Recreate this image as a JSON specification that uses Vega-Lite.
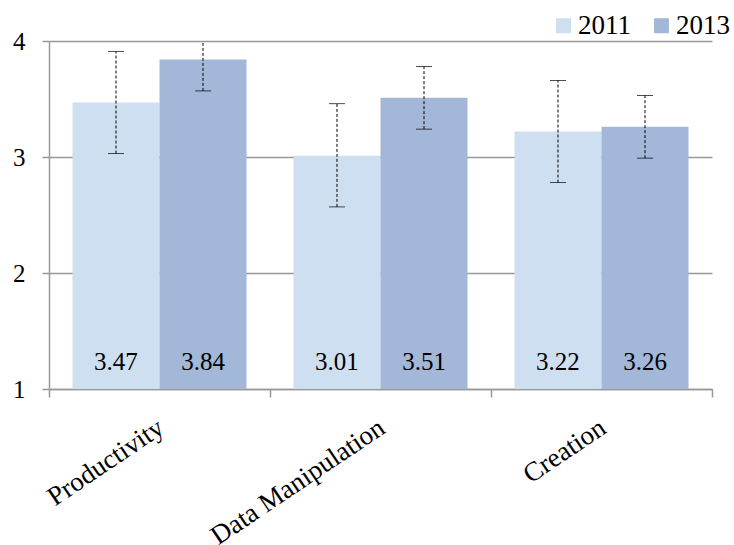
{
  "$schema": "https://vega.github.io/schema/vega-lite/v6.json",
  "width": 663,
  "height": 348,
  "autosize": {"type": "none"},
  "padding": {"left": 49, "top": 41, "right": 22, "bottom": 156},
  "background": "white",
  "config": {"font": "Liberation Serif", "view": {"stroke": null}},
  "data": {
    "values": [
      {"category": "Productivity", "year": "2011", "value": 3.47, "lo": 3.03, "hi": 3.91},
      {"category": "Productivity", "year": "2013", "value": 3.84, "lo": 3.57, "hi": 4.11},
      {"category": "Data Manipulation", "year": "2011", "value": 3.01, "lo": 2.57, "hi": 3.46},
      {"category": "Data Manipulation", "year": "2013", "value": 3.51, "lo": 3.24, "hi": 3.78},
      {"category": "Creation", "year": "2011", "value": 3.22, "lo": 2.78, "hi": 3.66},
      {"category": "Creation", "year": "2013", "value": 3.26, "lo": 2.99, "hi": 3.53}
    ]
  },
  "encoding": {
    "x": {
      "field": "category",
      "type": "nominal",
      "sort": ["Productivity", "Data Manipulation", "Creation"],
      "scale": {"paddingInner": 0, "paddingOuter": 0},
      "axis": {
        "title": null,
        "tickBand": "extent",
        "domainColor": "#999999",
        "domainWidth": 1.5,
        "tickColor": "#999999",
        "tickWidth": 1.5,
        "tickSize": 8,
        "labelAngle": -34,
        "labelFontSize": 27,
        "labelColor": "black",
        "labelPadding": 17,
        "labelOffset": -6,
        "labelLimit": 0,
        "grid": false
      }
    },
    "xOffset": {
      "field": "year",
      "type": "nominal",
      "scale": {"paddingInner": 0, "paddingOuter": 0.27}
    }
  },
  "layer": [
    {
      "mark": {"type": "bar"},
      "encoding": {
        "y": {
          "field": "value",
          "type": "quantitative",
          "title": null,
          "scale": {"domain": [1, 4], "nice": false, "zero": false},
          "axis": {
            "values": [1, 2, 3, 4],
            "format": "d",
            "grid": true,
            "gridColor": "#999999",
            "gridWidth": 1.5,
            "domainColor": "#999999",
            "domainWidth": 1.5,
            "tickColor": "#999999",
            "tickWidth": 1.5,
            "tickSize": 7,
            "labelFontSize": 25,
            "labelColor": "black",
            "labelPadding": 17
          }
        },
        "y2": {"datum": 1},
        "color": {
          "field": "year",
          "type": "nominal",
          "scale": {"domain": ["2011", "2013"], "range": ["#CFDFF2", "#A3B7D9"]},
          "legend": {
            "title": null,
            "orient": "none",
            "direction": "horizontal",
            "legendX": 501,
            "legendY": -29,
            "symbolType": "square",
            "symbolSize": 225,
            "symbolStrokeWidth": 0,
            "labelFontSize": 27,
            "labelColor": "black",
            "labelOffset": 1,
            "columnPadding": 17,
            "padding": 0
          }
        }
      }
    },
    {
      "mark": {"type": "rule", "color": "black", "strokeWidth": 1, "strokeDash": [3, 2], "clip": true},
      "encoding": {
        "y": {"field": "lo", "type": "quantitative", "title": null},
        "y2": {"field": "hi"}
      }
    },
    {
      "mark": {"type": "tick", "orient": "horizontal", "size": 16, "thickness": 1, "color": "black", "clip": true},
      "encoding": {"y": {"field": "lo", "type": "quantitative", "title": null}}
    },
    {
      "mark": {"type": "tick", "orient": "horizontal", "size": 16, "thickness": 1, "color": "black", "clip": true},
      "encoding": {"y": {"field": "hi", "type": "quantitative", "title": null}}
    },
    {
      "mark": {"type": "text", "fontSize": 25, "baseline": "middle", "dy": -27, "color": "black"},
      "encoding": {
        "y": {"datum": 1},
        "text": {"field": "value", "type": "quantitative", "format": ".2f"}
      }
    }
  ]
}
